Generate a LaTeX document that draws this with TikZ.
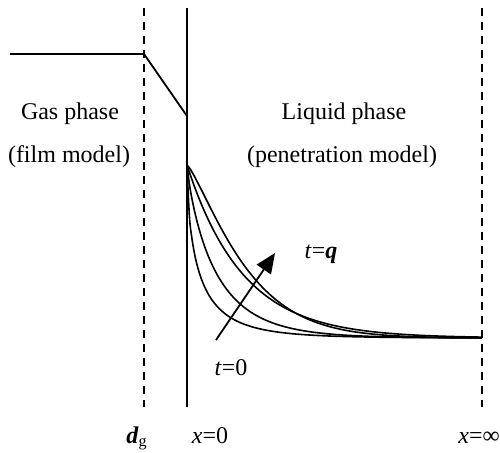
\documentclass[tikz,border=0pt]{standalone}
\usepackage{fontspec}
\setmainfont{Liberation Serif}
\usetikzlibrary{arrows.meta}
\tikzset{
  wall/.style={line width=0.9pt},
  filmwall/.style={line width=0.9pt,dash pattern=on 4pt off 3pt},
  profile/.style={line width=0.8pt,line join=round,domain=0.01:295,samples=120,smooth},
  lbl/.style={anchor=base,inner sep=0pt}
}
\begin{document}
\begin{tikzpicture}[x=0.5pt,y=-0.5pt,every node/.style={font=\fontsize{12}{14}\selectfont}]
  \useasboundingbox (0,0) rectangle (500,452);
  % Walls
  \coordinate (filmtop) at (144,8);
  \coordinate (filmbot) at (144,407);
  \coordinate (inttop) at (187,8);
  \coordinate (intbot) at (187,407);
  \coordinate (bulktop) at (482,8);
  \coordinate (bulkbot) at (482,407);
  \draw[filmwall] (filmtop) -- (filmbot);
  \draw[wall] (inttop) -- (intbot);
  \draw[filmwall] (bulktop) -- (bulkbot);

  % Gas side profile
  \coordinate (gasbulk) at (10,54);
  \coordinate (gasfilm) at (144,54);
  \coordinate (gasint) at (187,116);
  \draw[wall] (gasbulk) -- (gasfilm) -- (gasint);

  % Liquid side profiles
  \draw[profile] plot ({187+\x},{338-173*exp(-(\x/12.8)^0.62)});
  \draw[profile] plot ({187+\x},{338-173*exp(-(\x/30)^0.85)});
  \draw[profile] plot ({187+\x},{338-173*exp(-(\x/56)^1.0)});
  \draw[profile] plot ({187+\x},{338-173*exp(-(\x/64)^1.25)});

  % Time arrow
  \coordinate (tstart) at (216,340);
  \coordinate (tend) at (275,253);
  \draw[wall,-{Triangle[length=10pt,width=8.5pt]}] (tstart) -- (tend);

  % Texts
  \node[lbl] (gas) at (70,119) {Gas phase};
  \node[lbl] (film) at (69,162) {(film model)};
  \node[lbl] (liq) at (344,119) {Liquid phase};
  \node[lbl] (pen) at (342,162) {(penetration model)};
  \node[lbl] (tq) at (321,258) {\textit{t}=\textbf{\textit{q}}};
  \node[lbl] (t0) at (231,375) {\textit{t}=0};
  \node[lbl] (dg) at (137,443) {\textbf{\textit{d}}\textsubscript{g}};
  \node[lbl] (x0) at (210,443) {\textit{x}=0};
  \node[lbl] (xinf) at (479,443) {\textit{x}=∞};
\end{tikzpicture}
\end{document}
